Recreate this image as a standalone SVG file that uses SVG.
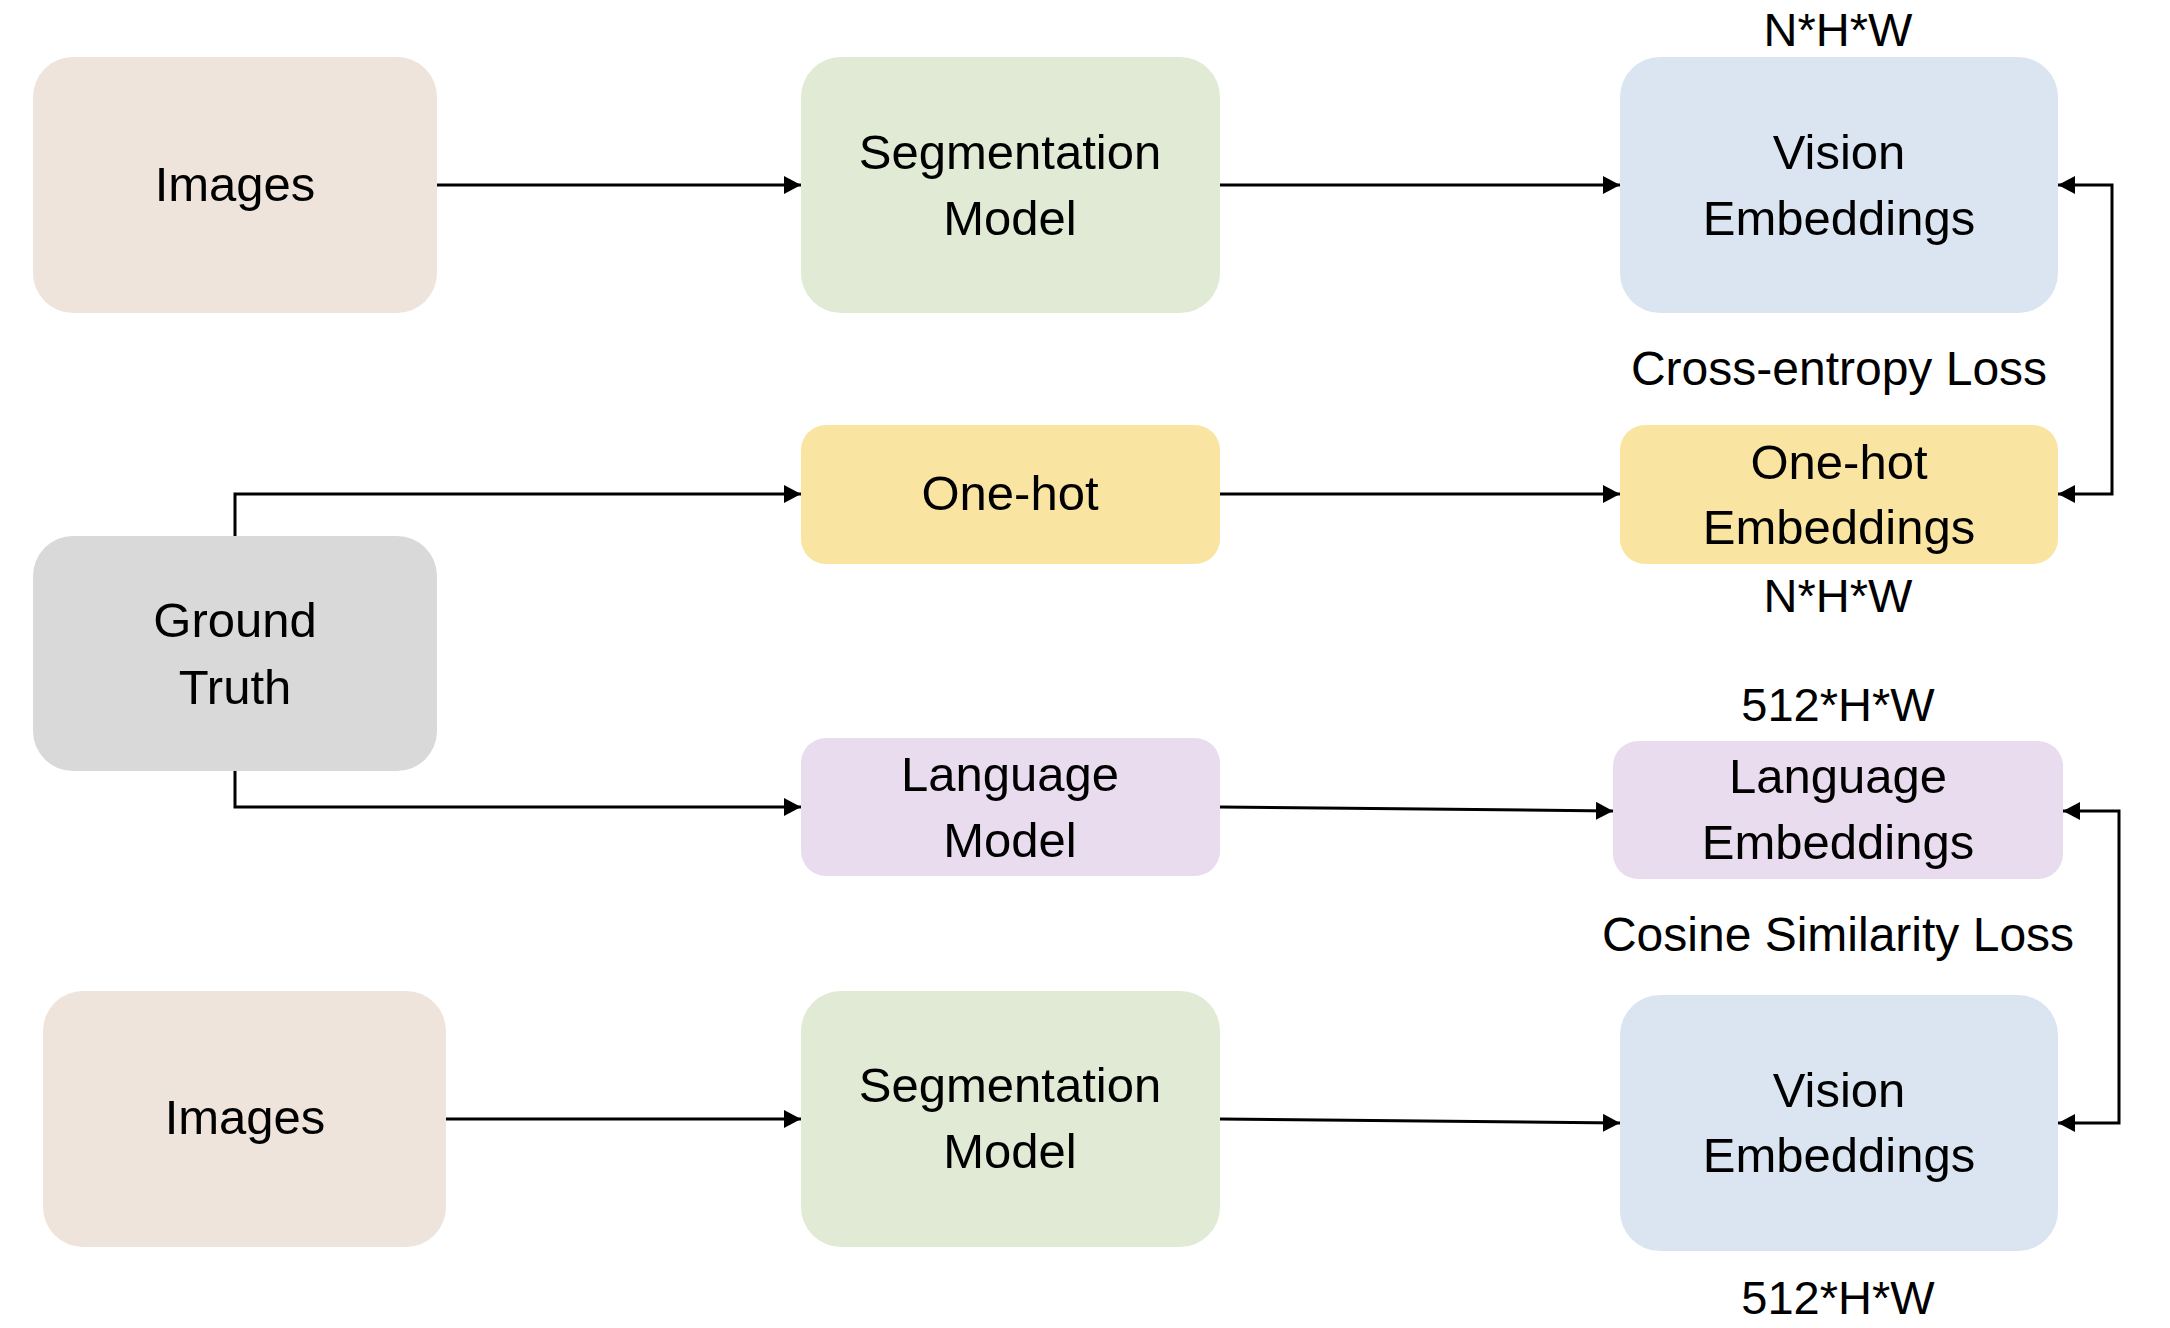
<svg xmlns="http://www.w3.org/2000/svg" width="2170" height="1328" viewBox="0 0 2170 1328">
<defs>
<style>
.t{font-family:"Liberation Sans",Arial,sans-serif;font-size:49px;fill:#000;text-anchor:middle}
.l{font-family:"Liberation Sans",Arial,sans-serif;font-size:48px;fill:#000;text-anchor:middle}
.d{font-family:"Liberation Sans",Arial,sans-serif;font-size:47px;fill:#000;text-anchor:middle}
.c{fill:none;stroke:#000;stroke-width:3}
.img{fill:#EEE4DB}
.seg{fill:#E0EAD4}
.vis{fill:#DAE5F1}
.hot{fill:#F9E4A1}
.gt{fill:#D9D9D9}
.lang{fill:#E8DCEE}
</style>
<marker id="ah" markerUnits="userSpaceOnUse" markerWidth="18" markerHeight="18" refX="17" refY="9" orient="auto">
<path d="M0,0 L17,9 L0,18 Z" fill="#000"/>
</marker>
<marker id="ahs" markerUnits="userSpaceOnUse" markerWidth="18" markerHeight="18" refX="0" refY="9" orient="auto">
<path d="M17,0 L0,9 L17,18 Z" fill="#000"/>
</marker>
</defs>
<rect width="2170" height="1328" fill="#fff"/>

<g id="images1">
<rect class="img" x="33" y="57" width="404" height="256" rx="40"/>
<text class="t" x="235" y="201">Images</text>
</g>
<g id="seg1">
<rect class="seg" x="801" y="57" width="419" height="256" rx="40"/>
<text class="t" x="1010" y="169">Segmentation</text>
<text class="t" x="1010" y="235">Model</text>
</g>
<g id="vision1">
<rect class="vis" x="1620" y="57" width="438" height="256" rx="40"/>
<text class="t" x="1839" y="169">Vision</text>
<text class="t" x="1839" y="235">Embeddings</text>
</g>
<g id="onehot">
<rect class="hot" x="801" y="425" width="419" height="139" rx="25"/>
<text class="t" x="1010" y="510">One-hot</text>
</g>
<g id="onehotemb">
<rect class="hot" x="1620" y="425" width="438" height="139" rx="25"/>
<text class="t" x="1839" y="479">One-hot</text>
<text class="t" x="1839" y="544">Embeddings</text>
</g>
<g id="groundtruth">
<rect class="gt" x="33" y="536" width="404" height="235" rx="40"/>
<text class="t" x="235" y="637">Ground</text>
<text class="t" x="235" y="704">Truth</text>
</g>
<g id="langmodel">
<rect class="lang" x="801" y="738" width="419" height="138" rx="25"/>
<text class="t" x="1010" y="791">Language</text>
<text class="t" x="1010" y="857">Model</text>
</g>
<g id="langemb">
<rect class="lang" x="1613" y="741" width="450" height="138" rx="25"/>
<text class="t" x="1838" y="793">Language</text>
<text class="t" x="1838" y="859">Embeddings</text>
</g>
<g id="images2">
<rect class="img" x="43" y="991" width="403" height="256" rx="40"/>
<text class="t" x="245" y="1134">Images</text>
</g>
<g id="seg2">
<rect class="seg" x="801" y="991" width="419" height="256" rx="40"/>
<text class="t" x="1010" y="1102">Segmentation</text>
<text class="t" x="1010" y="1168">Model</text>
</g>
<g id="vision2">
<rect class="vis" x="1620" y="995" width="438" height="256" rx="40"/>
<text class="t" x="1839" y="1107">Vision</text>
<text class="t" x="1839" y="1172">Embeddings</text>
</g>

<g id="labels">
<text class="d" x="1838" y="46">N*H*W</text>
<text class="l" x="1839" y="385">Cross-entropy Loss</text>
<text class="d" x="1838" y="612">N*H*W</text>
<text class="d" x="1838" y="721">512*H*W</text>
<text class="l" x="1838" y="951">Cosine Similarity Loss</text>
<text class="d" x="1838" y="1314">512*H*W</text>
</g>

<g id="connectors">
<line class="c" x1="437" y1="185" x2="801" y2="185" marker-end="url(#ah)"/>
<line class="c" x1="1220" y1="185" x2="1620" y2="185" marker-end="url(#ah)"/>
<polyline class="c" points="235,536 235,494 801,494" marker-end="url(#ah)"/>
<line class="c" x1="1220" y1="494" x2="1620" y2="494" marker-end="url(#ah)"/>
<polyline class="c" points="2058,185 2112,185 2112,494 2058,494" marker-start="url(#ahs)" marker-end="url(#ah)"/>
<polyline class="c" points="235,771 235,807 801,807" marker-end="url(#ah)"/>
<line class="c" x1="1220" y1="807" x2="1613" y2="811" marker-end="url(#ah)"/>
<line class="c" x1="446" y1="1119" x2="801" y2="1119" marker-end="url(#ah)"/>
<line class="c" x1="1220" y1="1119" x2="1620" y2="1123" marker-end="url(#ah)"/>
<polyline class="c" points="2063,811 2119,811 2119,1123 2058,1123" marker-start="url(#ahs)" marker-end="url(#ah)"/>
</g>
</svg>
